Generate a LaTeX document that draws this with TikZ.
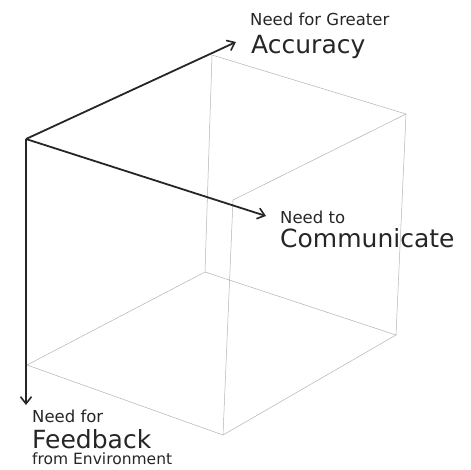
\documentclass[tikz,border=0pt]{standalone}
\usepackage{fontspec}
\setmainfont{DejaVu Sans}
\usetikzlibrary{arrows.meta}
\begin{document}
\begin{tikzpicture}[x=1pt,y=-1pt,
  axis/.style={draw=black!85,line width=1.8pt,-{Straight Barb[length=7pt,width=11pt,line width=1.6pt]}},
  edge/.style={draw=black!30,line width=0.5pt},
  small/.style={font=\fontsize{16.5}{17}\selectfont,text=black!85,inner sep=0pt,anchor=base west},
  big/.style={font=\fontsize{25}{26}\selectfont,text=black!85,inner sep=0pt,anchor=base west},
  tiny/.style={font=\fontsize{15.5}{16}\selectfont,text=black!85,inner sep=0pt,anchor=base west}]
\useasboundingbox (0,0) rectangle (471,469);
% cube corners
\coordinate (O) at (26,139);
\coordinate (TB) at (212,55);
\coordinate (TR) at (406,114);
\coordinate (TF) at (233,200);
\coordinate (BL) at (27,365);
\coordinate (BB) at (205,272);
\coordinate (BR) at (396,335);
\coordinate (BF) at (223,435);
% arrow ends
\coordinate (A) at (236,42);
\coordinate (C) at (266,216);
\coordinate (F) at (26,405);
% cube edges
\draw[edge] (TB) -- (TR) -- (TF);
\draw[edge] (TB) -- (BB);
\draw[edge] (TR) -- (BR);
\draw[edge] (TF) -- (BF);
\draw[edge] (BL) -- (BB) -- (BR) -- (BF) -- (BL);
% axes
\draw[axis] (O) -- (A);
\draw[axis] (O) -- (C);
\draw[axis] (O) -- (F);
% labels
\node[small] (l1) at (250,25) {Need for Greater};
\node[big] (l2) at (251,53) {Accuracy};
\node[small] (l3) at (280,223) {Need to};
\node[big] (l4) at (280,247) {Communicate};
\node[small] (l5) at (32,422) {Need for};
\node[big] (l6) at (32,448) {Feedback};
\node[tiny] (l7) at (32,464) {from Environment};
\end{tikzpicture}
\end{document}
